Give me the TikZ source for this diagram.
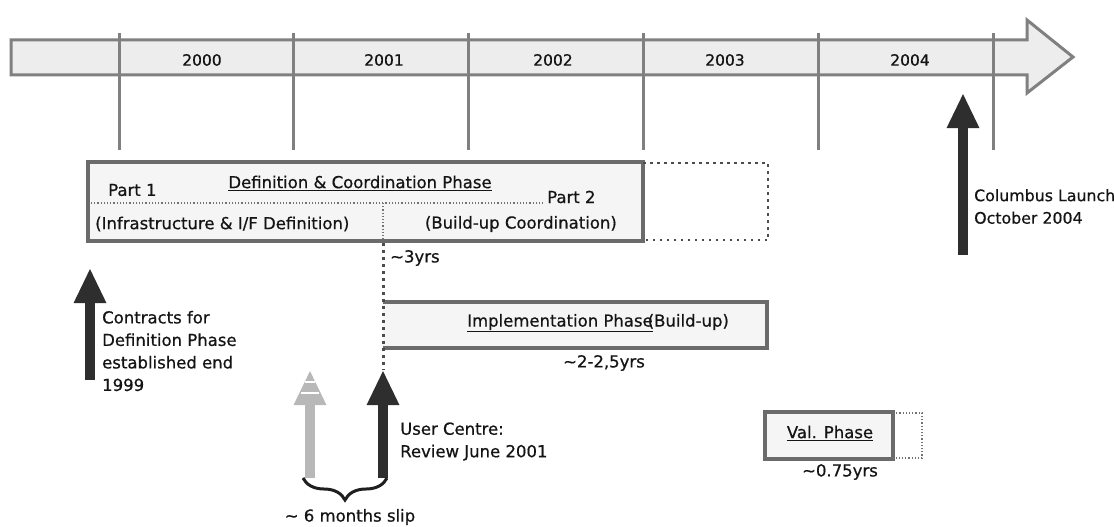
\documentclass[tikz,border=0pt]{standalone}
\usepackage{fontspec}
\setmainfont{DejaVu Sans}[FakeBold=0.6]
\usetikzlibrary{arrows.meta,decorations.pathreplacing}
\begin{document}
\begin{tikzpicture}[x=1pt,y=-1pt,
  txt/.style={inner sep=0pt, font=\fontsize{16.5}{22.5}\selectfont, text=black!92},
  yr/.style={inner sep=0pt, font=\fontsize{15.5}{18}\selectfont, text=black!92},
  gline/.style={draw=black!50, line width=3pt},
  phasebox/.style={draw=black!58, line width=4pt, fill=black!4},
  dotbig/.style={draw=black!70, line width=3pt, dash pattern=on 2.5pt off 4.5pt},
  dotthin/.style={draw=black!55, line width=1.2pt, dash pattern=on 1.2pt off 2pt},
  milestone/.style={line width=10pt, -{Triangle[width=30pt,length=35pt]}, draw=black!82, fill=black!82},
  slipped/.style={milestone, draw=black!28, fill=black!28}]
\clip (0,0) rectangle (1114,527);
\fill[white] (0,0) rectangle (1114,527);

% timeline arrow
\draw[draw=black!50, line width=3pt, fill=black!7, line join=miter]
  (11,40) -- (1027,40) -- (1027,20) -- (1073,57) -- (1027,93) -- (1027,75) -- (11,75) -- cycle;
\foreach \x/\n in {119/a,293/b,468/c,643/d,818/e,993/f} {
  \coordinate (t\n) at (\x,33);
  \coordinate (b\n) at (\x,150);
  \draw[gline] (t\n) -- (b\n);
}
\node[yr] (y2000) at (202,60) {2000};
\node[yr] (y2001) at (384,60) {2001};
\node[yr] (y2002) at (553,60) {2002};
\node[yr] (y2003) at (725,60) {2003};
\node[yr] (y2004) at (910,60) {2004};

% definition & coordination phase
\draw[phasebox] (88,162) rectangle (643,241);
\draw[dotbig, line width=2.5pt] (643,163) -- (768,163) -- (768,240) -- (643,240);
\draw[dotthin] (91,203) -- (545,203);
\coordinate (dv1) at (383,203);
\coordinate (dv2) at (383,239);
\draw[dotthin] (dv1) -- (dv2);
\node[txt] (deftitle) at (360,183) {\underline{Definition \& Coordination Phase}};
\node[txt, anchor=west] (part1) at (108,190) {Part 1};
\node[txt, anchor=west] (part2) at (547,197) {Part 2};
\node[txt, anchor=west] (infra) at (95,224) {(Infrastructure \& I/F Definition)};
\node[txt, anchor=east] (buildc) at (617,224) {(Build-up Coordination)};
\node[txt, anchor=west] (three) at (390,258) {\textasciitilde3yrs};

% implementation phase
\fill[black!4] (383,302) rectangle (767,348);
\draw[phasebox, fill=none] (383,302) -- (767,302) -- (767,348) -- (383,348);
\node[txt, anchor=west] (impl) at (467,323) {\underline{Implementation Phase}\kern-5pt(Build-up)};
\node[txt] (implyrs) at (604,363) {\textasciitilde2-2,5yrs};

% validation phase
\draw[phasebox] (765,412) rectangle (893,459);
\draw[dotthin, line width=1.5pt] (893,413) -- (922,413) -- (922,458) -- (893,458);
\node[txt] (val) at (830,433) {\underline{Val. Phase}};
\node[txt] (valyrs) at (840,472) {\textasciitilde0.75yrs};

% milestones
\coordinate (cBase) at (90,380);
\coordinate (cTip) at (90,268);
\draw[milestone] (cBase) -- (cTip);
\node[txt, anchor=west, align=left] (contracts) at (102,351)
  {Contracts for\\Definition Phase\\established end\\1999};

\coordinate (lBase) at (963,255);
\coordinate (lTip) at (963,93);
\draw[milestone] (lBase) -- (lTip);
\node[txt, anchor=west, align=left, font=\fontsize{15.8}{22.5}\selectfont] (launch) at (974,206.5)
  {Columbus Launch\\October 2004};

\coordinate (uTop) at (383,243);
\coordinate (uTip) at (383,370);
\draw[dotbig] (uTop) -- (uTip);

\coordinate (gBase) at (310,478);
\coordinate (gTip) at (310,370);
\draw[slipped] (gBase) -- (gTip);
\draw[white, line width=1.5pt] (305,382) -- (315,382);
\draw[white, line width=1.5pt] (301,393) -- (319,393);

\coordinate (uBase) at (383,478);
\draw[milestone] (uBase) -- (uTip);
\node[txt, anchor=west, align=left] (uc) at (400,441.5)
  {User Centre:\\Review June 2001};

\coordinate (brL) at (303,478);
\coordinate (brR) at (387,478);
\draw[decorate, decoration={brace, amplitude=22pt, mirror}, line width=3pt, draw=black!88] (brL) -- (brR);
\node[txt] (slip) at (350,517) {\textasciitilde{} 6 months slip};
\end{tikzpicture}
\end{document}
